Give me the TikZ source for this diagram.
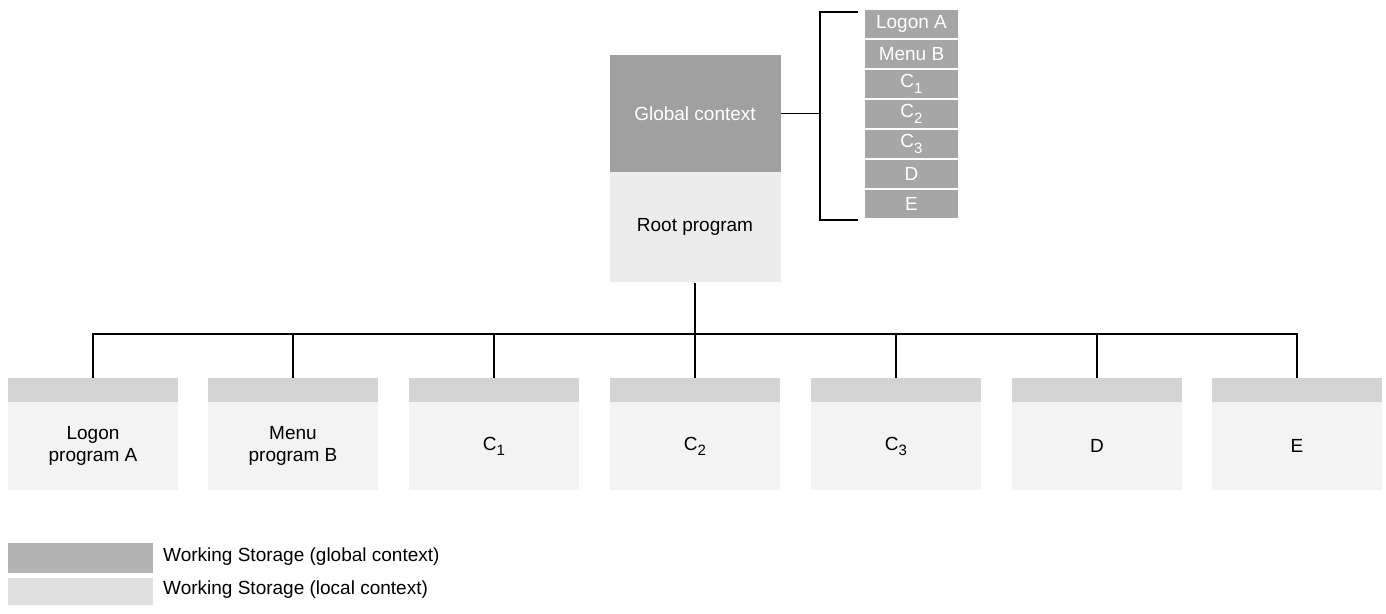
\documentclass[tikz,border=0pt]{standalone}
\usepackage{fontspec}
\setmainfont{Liberation Sans}
\definecolor{gctx}{HTML}{A0A0A0}
\definecolor{listc}{HTML}{A6A6A6}
\definecolor{hdr}{HTML}{D4D4D4}
\definecolor{cbody}{HTML}{F3F3F3}
\definecolor{rbody}{HTML}{ECECEC}
\definecolor{legdark}{HTML}{B3B3B3}
\definecolor{leglight}{HTML}{E0E0E0}
\newcommand{\subC}[1]{C\raisebox{-0.55ex}{\fontsize{15}{15}\selectfont #1}}
\begin{document}
\begin{tikzpicture}[x=1pt,y=-1pt,
  txt/.style={font=\fontsize{19}{22}\selectfont, align=center},
  blk/.style={draw=none, inner sep=0pt, minimum width=171pt},
  rowbox/.style={fill=listc, text=white, inner sep=0pt, minimum width=93pt, minimum height=28pt, txt},
  hdrbox/.style={blk, fill=hdr, minimum width=170pt, minimum height=24pt},
  bodybox/.style={blk, fill=cbody, minimum width=170pt, minimum height=88pt, txt},
  conn/.style={line width=1.4pt, black}
]
\useasboundingbox (0,0) rectangle (1386,613);
\fill[white] (0,0) rectangle (1386,613);

% root program
\node[blk, fill=gctx, minimum height=117pt, text=white, txt] (rootg) at (695,113.5) {Global context};
\node[blk, fill=rbody, minimum height=110pt, txt, anchor=north] (rootl) at (rootg.south) {Root program};

% global list
\foreach \t [count=\i from 0] in {Logon A, Menu B, \subC{1}, \subC{2}, \subC{3}, D, E} {
  \node[rowbox] (r\i) at (911.5, 24+30*\i) {\t};
}

% bracket
\coordinate (brk) at (820,113.5);
\coordinate (bt) at (858,12);
\coordinate (bb) at (858,220);
\draw[conn] (rootg.east) -- (brk);
\draw[conn] (bt) -| (brk) |- (bb);

% children
\coordinate (bus) at (695,334);
\draw[conn] (rootl.south) -- (bus);
\foreach \x/\n/\t in {93/a/{Logon\\program A}, 293/b/{Menu\\program B}, 494/c/{\subC{1}}, 695/d/{\subC{2}}, 896/e/{\subC{3}}, 1097/f/{D}, 1297/g/{E}} {
  \node[hdrbox] (h\n) at (\x,390) {};
  \node[bodybox, anchor=north] (b\n) at (h\n.south) {\t};
  \draw[conn] (h\n.north) |- (bus);
}

% legend
\node[blk, fill=legdark, minimum width=145pt, minimum height=30pt] (lg) at (80,557.5) {};
\node[blk, fill=leglight, minimum width=145pt, minimum height=27pt] (ll) at (80,591.5) {};
\node[txt, anchor=west, inner sep=0pt] (lgt) at (163,557) {Working Storage (global context)};
\node[txt, anchor=west, inner sep=0pt] (llt) at (163,590) {Working Storage (local context)};
\end{tikzpicture}
\end{document}
